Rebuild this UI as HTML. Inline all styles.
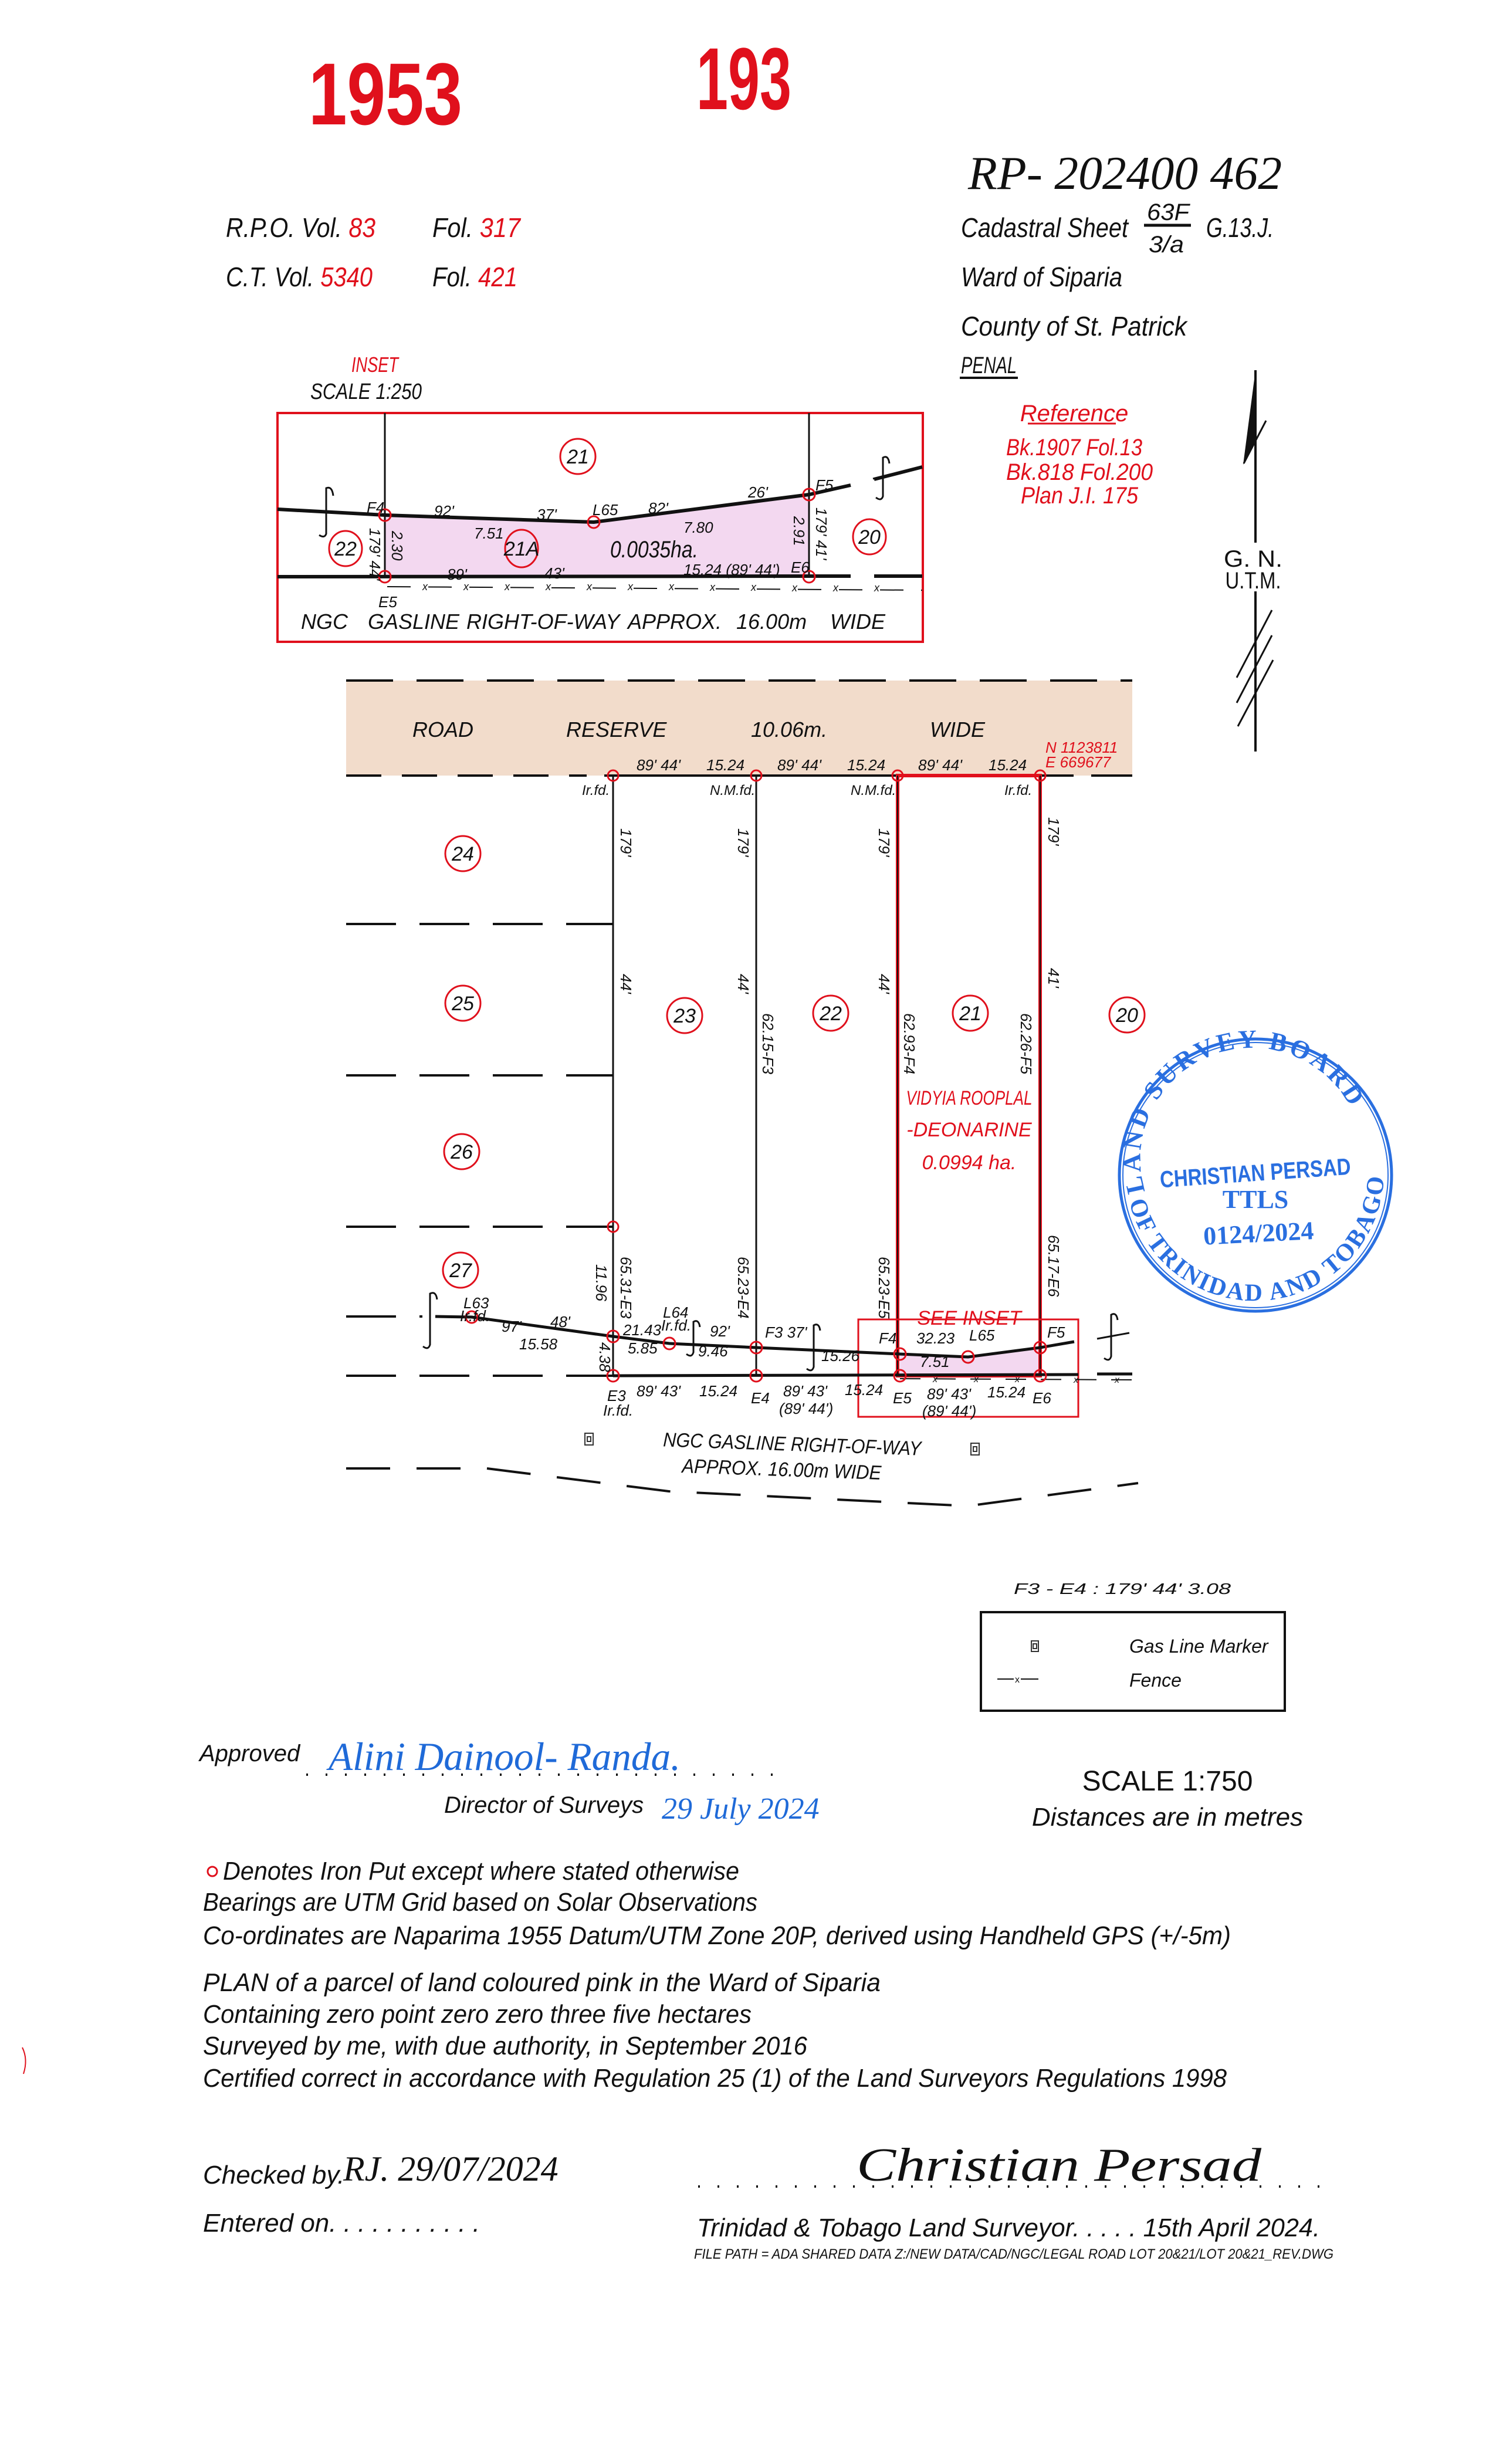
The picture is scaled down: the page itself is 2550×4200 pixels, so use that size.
<!DOCTYPE html>
<html><head><meta charset="utf-8">
<style>
html,body{margin:0;padding:0;background:#fff;}
svg{display:block;}
text{font-family:"Liberation Sans Narrow","Liberation Sans",sans-serif;font-style:italic;fill:#111;}
.r{fill:#e0101c;}
.b{fill:#1f6ad8;}
.hand{font-family:"Liberation Serif",serif;font-style:italic;}
.st{font-family:"Liberation Serif",serif;font-style:normal;font-weight:bold;fill:#2a6fe0;}
</style></head>
<body>
<svg width="2550" height="4200" viewBox="0 0 2550 4200" xmlns="http://www.w3.org/2000/svg">
<rect width="2550" height="4200" fill="#fff"/>

<!-- Header red numbers -->
<text x="526" y="212" class="r" font-size="150" textLength="262" lengthAdjust="spacingAndGlyphs" style="font-style:normal;font-weight:bold">1953</text>
<text x="1187" y="186" class="r" font-size="150" textLength="162" lengthAdjust="spacingAndGlyphs" style="font-style:normal;font-weight:bold">193</text>
<text x="1650" y="322" class="hand" font-size="80" textLength="535" lengthAdjust="spacingAndGlyphs">RP- 202400 462</text>

<text x="385" y="404" font-size="46" textLength="255" lengthAdjust="spacingAndGlyphs">R.P.O. Vol. <tspan class="r">83</tspan></text>
<text x="737" y="404" font-size="46" textLength="150" lengthAdjust="spacingAndGlyphs">Fol. <tspan class="r">317</tspan></text>
<text x="385" y="488" font-size="46" textLength="250" lengthAdjust="spacingAndGlyphs">C.T. Vol. <tspan class="r">5340</tspan></text>
<text x="737" y="488" font-size="46" textLength="145" lengthAdjust="spacingAndGlyphs">Fol. <tspan class="r">421</tspan></text>

<text x="1638" y="404" font-size="46" textLength="285" lengthAdjust="spacingAndGlyphs">Cadastral Sheet</text>
<text x="1955" y="375" font-size="40" textLength="72" lengthAdjust="spacingAndGlyphs">63F</text>
<line x1="1950" y1="384" x2="2030" y2="384" stroke="#111" stroke-width="5"/>
<text x="1958" y="430" font-size="40" textLength="60" lengthAdjust="spacingAndGlyphs">3/a</text>
<text x="2056" y="404" font-size="46" textLength="115" lengthAdjust="spacingAndGlyphs">G.13.J.</text>
<text x="1638" y="488" font-size="46" textLength="275" lengthAdjust="spacingAndGlyphs">Ward of Siparia</text>
<text x="1638" y="572" font-size="46" textLength="385" lengthAdjust="spacingAndGlyphs">County of St. Patrick</text>
<text x="1638" y="636" font-size="40" textLength="95" lengthAdjust="spacingAndGlyphs">PENAL</text>
<line x1="1636" y1="644" x2="1735" y2="644" stroke="#111" stroke-width="4"/>

<!-- Reference -->
<text x="1831" y="718" class="r" font-size="40" text-anchor="middle">Reference</text>
<line x1="1752" y1="722" x2="1902" y2="722" stroke="#e0101c" stroke-width="3"/>
<text x="1831" y="776" class="r" font-size="40" text-anchor="middle" textLength="232" lengthAdjust="spacingAndGlyphs">Bk.1907  Fol.13</text>
<text x="1840" y="818" class="r" font-size="40" text-anchor="middle" textLength="250" lengthAdjust="spacingAndGlyphs">Bk.818    Fol.200</text>
<text x="1840" y="858" class="r" font-size="40" text-anchor="middle" textLength="200" lengthAdjust="spacingAndGlyphs">Plan  J.I.  175</text>

<!-- North arrow -->
<line x1="2140" y1="631" x2="2140" y2="925" stroke="#111" stroke-width="4"/>
<line x1="2140" y1="1008" x2="2140" y2="1281" stroke="#111" stroke-width="4"/>
<polygon points="2140,631 2119,792 2140,755" fill="#111"/>
<line x1="2158" y1="717" x2="2120" y2="790" stroke="#111" stroke-width="3"/>
<text x="2136" y="966" font-size="40" text-anchor="middle" textLength="100" lengthAdjust="spacingAndGlyphs" style="font-style:normal">G.  N.</text>
<text x="2136" y="1003" font-size="40" text-anchor="middle" textLength="95" lengthAdjust="spacingAndGlyphs" style="font-style:normal">U.T.M.</text>
<line x1="2168" y1="1040" x2="2108" y2="1155" stroke="#111" stroke-width="3"/>
<line x1="2168" y1="1083" x2="2108" y2="1198" stroke="#111" stroke-width="3"/>
<line x1="2170" y1="1125" x2="2110" y2="1238" stroke="#111" stroke-width="3"/>

<!-- INSET -->
<text x="599" y="634" class="r" font-size="36" textLength="80" lengthAdjust="spacingAndGlyphs">INSET</text>
<text x="529" y="680" font-size="38" textLength="190" lengthAdjust="spacingAndGlyphs">SCALE  1:250</text>
<rect x="473" y="704" width="1100" height="390" fill="none" stroke="#e0101c" stroke-width="4"/>
<polygon points="656,878 1012,890 1379,843 1379,983 656,983" fill="#f3d8f0"/>
<line x1="656" y1="704" x2="656" y2="983" stroke="#111" stroke-width="3"/>
<line x1="1379" y1="704" x2="1379" y2="983" stroke="#111" stroke-width="3"/>
<polyline points="473,868 656,878 1012,890 1379,843 1450,827" fill="none" stroke="#111" stroke-width="6"/>
<line x1="1490" y1="817" x2="1572" y2="796" stroke="#111" stroke-width="6"/>
<line x1="473" y1="983" x2="1450" y2="982" stroke="#111" stroke-width="6"/>
<line x1="1490" y1="982" x2="1572" y2="982" stroke="#111" stroke-width="6"/>
<line x1="660" y1="1000" x2="1572" y2="1006" stroke="#111" stroke-width="2" stroke-dasharray="40,30"/>
<g font-size="18" style="font-style:normal">
<text x="720" y="1006">x</text><text x="790" y="1006">x</text><text x="860" y="1006">x</text><text x="930" y="1006">x</text><text x="1000" y="1006">x</text><text x="1070" y="1006">x</text><text x="1140" y="1006">x</text><text x="1210" y="1007">x</text><text x="1280" y="1007">x</text><text x="1350" y="1008">x</text><text x="1420" y="1008">x</text><text x="1490" y="1008">x</text>
</g>
<g fill="none" stroke="#e0101c" stroke-width="3">
<circle cx="656" cy="878" r="10"/><circle cx="1012" cy="890" r="10"/><circle cx="1379" cy="843" r="10"/><circle cx="1379" cy="983" r="10"/><circle cx="656" cy="983" r="10"/>
<ellipse cx="985" cy="778" rx="30" ry="30"/><ellipse cx="589" cy="935" rx="28" ry="30"/><ellipse cx="889" cy="935" rx="28" ry="32"/><ellipse cx="1482" cy="915" rx="28" ry="30"/>
</g>
<g font-size="34" text-anchor="middle">
<text x="985" y="790">21</text><text x="589" y="947">22</text><text x="889" y="947">21A</text><text x="1482" y="927">20</text>
</g>
<text x="1040" y="950" font-size="40" textLength="150" lengthAdjust="spacingAndGlyphs">0.0035ha.</text>
<g font-size="26">
<text x="625" y="874">F4</text><text x="740" y="880">92'</text><text x="915" y="886">37'</text><text x="1010" y="878">L65</text><text x="1105" y="875">82'</text><text x="1275" y="848">26'</text><text x="1390" y="836">F5</text>
<text x="808" y="918">7.51</text><text x="1165" y="908">7.80</text>
<text x="762" y="988">89'</text><text x="928" y="986">43'</text><text x="1165" y="980">15.24 (89' 44')</text><text x="1348" y="976">E6</text><text x="645" y="1035">E5</text>
</g>
<text transform="translate(668,905) rotate(90)" font-size="26">2.30</text>
<text transform="translate(630,900) rotate(90)" font-size="26">179' 44'</text>
<text transform="translate(1353,880) rotate(90)" font-size="26">2.91</text>
<text transform="translate(1391,865) rotate(90)" font-size="26">179' 41'</text>
<g fill="none" stroke="#111" stroke-width="3">
<path d="M568,845 Q566,828 556,832 L556,910 Q553,918 544,912"/>
<path d="M1516,790 Q1514,775 1505,780 L1505,846 Q1502,855 1493,848"/>
<line x1="1488" y1="816" x2="1520" y2="808"/>
</g>
<g font-size="36">
<text x="513" y="1072">NGC</text><text x="627" y="1072">GASLINE</text><text x="795" y="1072">RIGHT-OF-WAY</text><text x="1070" y="1072">APPROX.</text><text x="1255" y="1072">16.00m</text><text x="1415" y="1072">WIDE</text>
</g>

<!-- Road reserve -->
<rect x="590" y="1160" width="1340" height="162" fill="#f2dccb"/>
<line x1="590" y1="1160" x2="1930" y2="1160" stroke="#111" stroke-width="4" stroke-dasharray="80,40"/>
<line x1="590" y1="1322" x2="1000" y2="1322" stroke="#111" stroke-width="4" stroke-dasharray="60,35"/>
<line x1="1030" y1="1322" x2="1830" y2="1322" stroke="#111" stroke-width="4"/>
<line x1="1860" y1="1322" x2="1930" y2="1322" stroke="#111" stroke-width="4"/>
<g font-size="36">
<text x="703" y="1256">ROAD</text><text x="965" y="1256">RESERVE</text><text x="1280" y="1256">10.06m.</text><text x="1585" y="1256">WIDE</text>
</g>
<g font-size="26">
<text x="1085" y="1313">89' 44'</text><text x="1204" y="1313">15.24</text>
<text x="1325" y="1313">89' 44'</text><text x="1444" y="1313">15.24</text>
<text x="1565" y="1313">89' 44'</text><text x="1685" y="1313">15.24</text>
<text x="992" y="1355" font-size="24">Ir.fd.</text><text x="1210" y="1355" font-size="24">N.M.fd.</text><text x="1450" y="1355" font-size="24">N.M.fd.</text><text x="1712" y="1355" font-size="24">Ir.fd.</text>
</g>
<text x="1782" y="1283" class="r" font-size="26">N 1123811</text>
<text x="1782" y="1308" class="r" font-size="26">E  669677</text>

<!-- Left dashed lot lines -->
<g stroke="#111" stroke-width="4" stroke-dasharray="85,40">
<line x1="590" y1="1575" x2="1045" y2="1575"/>
<line x1="590" y1="1833" x2="1045" y2="1833"/>
<line x1="590" y1="2091" x2="1045" y2="2091"/>
<line x1="590" y1="2244" x2="720" y2="2244"/>
<line x1="590" y1="2345" x2="1045" y2="2345"/>
</g>

<!-- Parcel -->
<polygon points="1534,2308 1650,2313 1773,2297 1773,2345 1534,2345" fill="#f3d8f0"/>
<g stroke="#111" stroke-width="3">
<line x1="1045" y1="1322" x2="1045" y2="2345"/>
<line x1="1289" y1="1322" x2="1289" y2="2345"/>
</g>
<rect x="1530" y="1322" width="243" height="1023" fill="none" stroke="#e0101c" stroke-width="6"/>
<line x1="1530" y1="1322" x2="1530" y2="2345" stroke="#111" stroke-width="2"/>
<line x1="1773" y1="1322" x2="1773" y2="2345" stroke="#111" stroke-width="2"/>
<rect x="1463" y="2249" width="375" height="166" fill="none" stroke="#e0101c" stroke-width="3"/>

<!-- Fence -->
<polyline points="742,2244 804,2245 1045,2278 1141,2290 1289,2297 1534,2308 1650,2313 1773,2297 1831,2287" fill="none" stroke="#111" stroke-width="5"/>
<line x1="1045" y1="2345" x2="1838" y2="2343" stroke="#111" stroke-width="5"/>
<line x1="1870" y1="2342" x2="1930" y2="2342" stroke="#111" stroke-width="5"/>
<line x1="1534" y1="2350" x2="1930" y2="2352" stroke="#111" stroke-width="2" stroke-dasharray="35,25"/>
<g font-size="16" style="font-style:normal"><text x="1590" y="2356">x</text><text x="1660" y="2356">x</text><text x="1730" y="2356">x</text><text x="1830" y="2357">x</text><text x="1900" y="2357">x</text></g>
<g fill="none" stroke="#111" stroke-width="3">
<path d="M745,2215 Q743,2200 733,2205 L733,2292 Q730,2302 721,2295"/>
<path d="M1193,2262 Q1191,2248 1182,2253 L1182,2305 Q1179,2315 1170,2308"/>
<path d="M1398,2268 Q1396,2254 1387,2259 L1387,2330 Q1384,2340 1375,2333"/>
<path d="M1905,2250 Q1903,2236 1894,2241 L1894,2312 Q1891,2322 1882,2315"/>
<line x1="1870" y1="2282" x2="1925" y2="2272"/>
</g>
<g fill="none" stroke="#e0101c" stroke-width="3">
<circle cx="1045" cy="1322" r="9"/><circle cx="1289" cy="1322" r="9"/><circle cx="1530" cy="1322" r="9"/><circle cx="1773" cy="1322" r="9"/>
<circle cx="1045" cy="2091" r="9"/>
<circle cx="804" cy="2245" r="10"/><circle cx="1045" cy="2278" r="10"/><circle cx="1141" cy="2290" r="10"/><circle cx="1289" cy="2297" r="10"/><circle cx="1534" cy="2308" r="10"/><circle cx="1650" cy="2313" r="10"/><circle cx="1773" cy="2297" r="10"/>
<circle cx="1045" cy="2345" r="10"/><circle cx="1289" cy="2345" r="10"/><circle cx="1534" cy="2345" r="10"/><circle cx="1773" cy="2345" r="10"/>
<circle cx="789" cy="1455" r="30"/><circle cx="789" cy="1710" r="30"/><circle cx="787" cy="1963" r="30"/><circle cx="785" cy="2165" r="30"/>
<circle cx="1167" cy="1731" r="30"/><circle cx="1416" cy="1727" r="30"/><circle cx="1654" cy="1727" r="30"/><circle cx="1921" cy="1730" r="30"/>
</g>
<g font-size="34" text-anchor="middle">
<text x="789" y="1467">24</text><text x="789" y="1722">25</text><text x="787" y="1975">26</text><text x="785" y="2177">27</text>
<text x="1167" y="1743">23</text><text x="1416" y="1739">22</text><text x="1654" y="1739">21</text><text x="1921" y="1742">20</text>
</g>
<g font-size="26">
<text transform="translate(1058,1412) rotate(90)">179'</text><text transform="translate(1058,1660) rotate(90)">44'</text>
<text transform="translate(1258,1412) rotate(90)">179'</text><text transform="translate(1258,1660) rotate(90)">44'</text>
<text transform="translate(1498,1412) rotate(90)">179'</text><text transform="translate(1498,1660) rotate(90)">44'</text>
<text transform="translate(1787,1393) rotate(90)">179'</text><text transform="translate(1787,1650) rotate(90)">41'</text>
<text transform="translate(1300,1727) rotate(90)">62.15-F3</text>
<text transform="translate(1541,1727) rotate(90)">62.93-F4</text>
<text transform="translate(1740,1727) rotate(90)">62.26-F5</text>
<text transform="translate(1058,2142) rotate(90)">65.31-E3</text>
<text transform="translate(1016,2155) rotate(90)">11.96</text>
<text transform="translate(1258,2142) rotate(90)">65.23-E4</text>
<text transform="translate(1498,2142) rotate(90)">65.23-E5</text>
<text transform="translate(1787,2105) rotate(90)">65.17-E6</text>
<text transform="translate(1022,2288) rotate(90)">4.38</text>
</g>
<g font-size="34" text-anchor="middle">
<text x="1652" y="1883" class="r" textLength="215" lengthAdjust="spacingAndGlyphs">VIDYIA  ROOPLAL</text>
<text x="1652" y="1937" class="r">-DEONARINE</text>
<text x="1652" y="1993" class="r">0.0994  ha.</text>
<text x="1652" y="2258" class="r">SEE  INSET</text>
</g>
<g font-size="26">
<text x="790" y="2230">L63</text><text x="784" y="2252">Ir.fd.</text>
<text x="855" y="2270">97'</text><text x="938" y="2262">48'</text><text x="885" y="2300">15.58</text>
<text x="1062" y="2276">21.43</text><text x="1070" y="2307">5.85</text>
<text x="1130" y="2246">L64</text><text x="1127" y="2268">Ir.fd.</text>
<text x="1210" y="2278">92'</text><text x="1190" y="2312">9.46</text>
<text x="1304" y="2280">F3  37'</text><text x="1400" y="2320">15.26</text>
<text x="1498" y="2290">F4</text><text x="1562" y="2290">32.23</text><text x="1652" y="2285">L65</text><text x="1785" y="2280">F5</text>
<text x="1568" y="2330">7.51</text>
<text x="1035" y="2388">E3</text><text x="1028" y="2413">Ir.fd.</text>
<text x="1085" y="2380">89' 43'</text><text x="1192" y="2380">15.24</text>
<text x="1280" y="2392">E4</text>
<text x="1335" y="2380">89' 43'</text><text x="1328" y="2410">(89' 44')</text>
<text x="1440" y="2378">15.24</text>
<text x="1522" y="2392">E5</text>
<text x="1580" y="2385">89' 43'</text><text x="1572" y="2414">(89' 44')</text>
<text x="1683" y="2382">15.24</text><text x="1760" y="2392">E6</text>
</g>

<!-- Gas markers -->
<g fill="none" stroke="#333" stroke-width="2">
<rect x="997" y="2443" width="14" height="20"/><rect x="1001" y="2449" width="6" height="8"/>
<rect x="1655" y="2460" width="14" height="20"/><rect x="1659" y="2466" width="6" height="8"/>
</g>
<text x="1130" y="2473" font-size="34" textLength="440" lengthAdjust="spacingAndGlyphs" transform="rotate(2 1350 2470)">NGC  GASLINE  RIGHT-OF-WAY</text>
<text x="1162" y="2516" font-size="34" textLength="340" lengthAdjust="spacingAndGlyphs" transform="rotate(2 1330 2515)">APPROX.  16.00m  WIDE</text>
<polyline points="590,2503 830,2503 1140,2542 1650,2567 1940,2528" fill="none" stroke="#111" stroke-width="4" stroke-dasharray="75,45"/>

<!-- Stamp -->
<g transform="translate(2140,2003)">
<circle r="232" fill="none" stroke="#2a6fe0" stroke-width="5"/>
<circle r="226" fill="none" stroke="#2a6fe0" stroke-width="2"/>
<defs>
<path id="topArc" d="M-188,28 A190,190 0 1,1 183,-45"/>
<path id="botArc" d="M-215,45 A220,220 0 0,0 219,-10"/>
</defs>
<text font-size="44" class="st"><textPath href="#topArc" textLength="560" lengthAdjust="spacing">LAND SURVEY BOARD</textPath></text>
<text font-size="42" class="st"><textPath href="#botArc" textLength="630" lengthAdjust="spacing">OF TRINIDAD AND TOBAGO</textPath></text>
<text x="0" y="10" text-anchor="middle" font-size="40" textLength="326" lengthAdjust="spacingAndGlyphs" transform="rotate(-4)" style="font-family:'Liberation Sans',sans-serif;font-style:normal;font-weight:bold;fill:#2a6fe0">CHRISTIAN PERSAD</text>
<text x="0" y="56" text-anchor="middle" font-size="44" class="st">TTLS</text>
<text x="0" y="114" text-anchor="middle" font-size="44" transform="rotate(-3)" class="st">0124/2024</text>
</g>

<g transform="translate(0,-18)">
<!-- Legend -->
<text x="1728" y="2735" font-size="26" textLength="370" lengthAdjust="spacingAndGlyphs">F3  -  E4  :  179'  44'   3.08</text>
<rect x="1672" y="2766" width="518" height="168" fill="none" stroke="#111" stroke-width="4"/>
<g fill="none" stroke="#333" stroke-width="2"><rect x="1758" y="2815" width="12" height="18"/><rect x="1761" y="2820" width="6" height="8"/></g>
<text x="1925" y="2835" font-size="32">Gas Line Marker</text>
<line x1="1700" y1="2880" x2="1728" y2="2880" stroke="#111" stroke-width="2"/>
<line x1="1740" y1="2880" x2="1770" y2="2880" stroke="#111" stroke-width="2"/>
<text x="1730" y="2886" font-size="16" style="font-style:normal">x</text>
<text x="1925" y="2893" font-size="32">Fence</text>

<!-- Approved -->
<text x="340" y="3020" font-size="40">Approved</text>
<line x1="522" y1="3043" x2="1340" y2="3043" stroke="#111" stroke-width="4" stroke-dasharray="3,30"/>
<text x="560" y="3035" class="hand" font-size="68" textLength="600" lengthAdjust="spacingAndGlyphs" style="fill:#1f6ad8">Alini  Dainool- Randa.</text>
<text x="757" y="3108" font-size="40">Director  of  Surveys</text>
<text x="1128" y="3118" class="hand" font-size="52" style="fill:#1f6ad8">29 July 2024</text>
<text x="1990" y="3070" font-size="48" text-anchor="middle" style="font-style:normal">SCALE  1:750</text>
<text x="1990" y="3130" font-size="44" text-anchor="middle">Distances  are  in  metres</text>

<!-- Notes -->
<circle cx="362" cy="3208" r="8" fill="none" stroke="#e0101c" stroke-width="3"/>
<g font-size="44">
<text x="380" y="3222" textLength="880" lengthAdjust="spacingAndGlyphs">Denotes  Iron  Put  except  where  stated  otherwise</text>
<text x="346" y="3275" textLength="945" lengthAdjust="spacingAndGlyphs">Bearings  are  UTM  Grid  based  on  Solar  Observations</text>
<text x="346" y="3332" textLength="1752" lengthAdjust="spacingAndGlyphs">Co-ordinates  are  Naparima  1955  Datum/UTM  Zone  20P,  derived  using  Handheld  GPS  (+/-5m)</text>
<text x="346" y="3412" textLength="1155" lengthAdjust="spacingAndGlyphs">PLAN  of  a  parcel  of  land  coloured  pink  in  the  Ward  of  Siparia</text>
<text x="346" y="3466" textLength="935" lengthAdjust="spacingAndGlyphs">Containing  zero  point  zero  zero  three  five  hectares</text>
<text x="346" y="3520" textLength="1030" lengthAdjust="spacingAndGlyphs">Surveyed  by  me,  with  due  authority,  in  September  2016</text>
<text x="346" y="3575" textLength="1745" lengthAdjust="spacingAndGlyphs">Certified  correct  in  accordance  with  Regulation  25  (1)  of  the  Land  Surveyors  Regulations  1998</text>
</g>
<text x="346" y="3740" font-size="44">Checked  by.</text>
<text x="585" y="3735" class="hand" font-size="60" style="fill:#111">RJ. 29/07/2024</text>
<text x="346" y="3822" font-size="44">Entered  on. . . . . . . . . . .</text>
<line x1="1190" y1="3745" x2="2250" y2="3745" stroke="#111" stroke-width="4" stroke-dasharray="3,30"/>
<text x="1460" y="3735" class="hand" font-size="80" textLength="690" lengthAdjust="spacingAndGlyphs" style="fill:#111">Christian  Persad</text>
<text x="1188" y="3830" font-size="44" textLength="1062" lengthAdjust="spacingAndGlyphs">Trinidad  &amp;  Tobago  Land  Surveyor. . . . .  15th  April  2024.</text>
<text x="1183" y="3868" font-size="24" textLength="1090" lengthAdjust="spacingAndGlyphs">FILE  PATH  =  ADA  SHARED  DATA  Z:/NEW  DATA/CAD/NGC/LEGAL  ROAD  LOT  20&amp;21/LOT  20&amp;21_REV.DWG</text>
</g>

<path d="M38,3490 Q48,3510 40,3535" fill="none" stroke="#e0101c" stroke-width="2"/>
</svg>
</body></html>
